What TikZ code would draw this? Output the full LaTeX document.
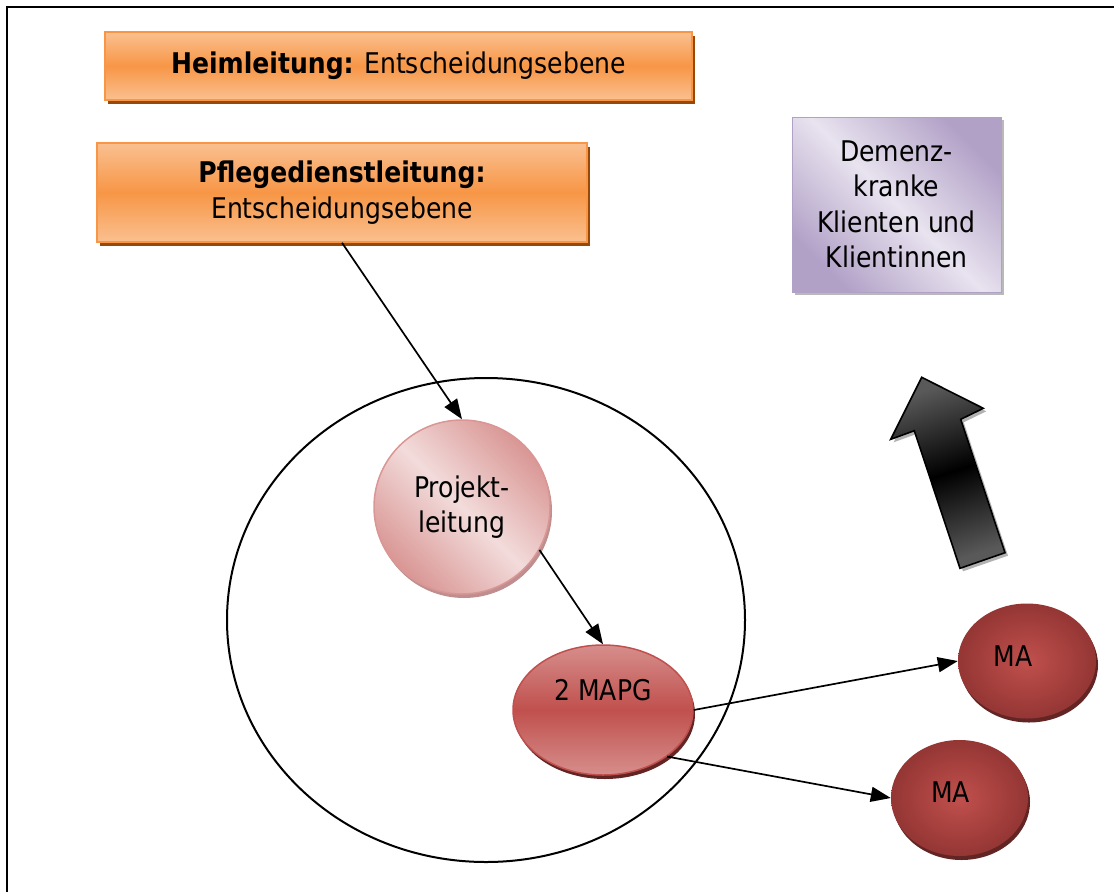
\documentclass[tikz,border=0pt]{standalone}
\usepackage{fontspec}
\setmainfont{DejaVu Sans}[FakeStretch=0.88]
\usetikzlibrary{arrows.meta,shapes.geometric,shadows}
\definecolor{orgD}{HTML}{F79646}
\definecolor{orgL}{HTML}{FAC090}
\definecolor{orgS}{HTML}{984807}
\definecolor{purD}{HTML}{B2A1C7}
\definecolor{purL}{HTML}{E8E3EF}
\definecolor{pinkL}{HTML}{F2DCDB}
\definecolor{pinkD}{HTML}{D99694}
\definecolor{redM}{HTML}{C0504D}
\definecolor{redD}{HTML}{943634}
\definecolor{redS}{HTML}{632523}
\definecolor{redT}{HTML}{D68E8C}
\tikzset{
  txt/.style={font=\fontsize{28.5}{35.5}\selectfont, align=center, text=black},
  orgbox/.style={txt, rectangle, draw=orgD, line width=1.5pt, top color=orgL, bottom color=orgL, middle color=orgD,
    drop shadow={shadow xshift=3pt, shadow yshift=-4pt, fill=orgS, opacity=1}},
  purbox/.style={txt, rectangle, draw=purD, line width=1pt, top color=purD, bottom color=purD, middle color=purL, shading angle=-45,
    drop shadow={shadow xshift=3pt, shadow yshift=-3pt, fill=gray!55, opacity=1}},
  projnode/.style={txt, ellipse, inner sep=0pt, draw=pinkD, line width=1.5pt, top color=pinkD, bottom color=pinkD, middle color=pinkL, shading angle=-45,
    drop shadow={shadow xshift=2pt, shadow yshift=-4pt, fill=pinkD!70!gray, opacity=1}},
  mapgnode/.style={txt, ellipse, inner sep=0pt, draw=redM, line width=1.5pt, top color=redT, bottom color=redT, middle color=redM,
    drop shadow={shadow xshift=2pt, shadow yshift=-4pt, fill=redS, opacity=1}},
  manode/.style={txt, ellipse, inner sep=0pt, inner color=redM, outer color=redD,
    drop shadow={shadow xshift=2pt, shadow yshift=-4pt, fill=redS, opacity=1}},
  conn/.style={line width=1.7pt, -{Triangle[length=20pt,width=15pt]}},
}
\begin{document}
\begin{tikzpicture}[x=1pt,y=-1pt]
\useasboundingbox (0,0) rectangle (1114,892);
% frame
\draw[line width=2pt] (7,892) -- (7,7) -- (1114,7);
% large group ellipse
\node[ellipse, draw, line width=2pt, minimum width=518pt, minimum height=484pt, inner sep=0pt] (grp) at (486,620) {};
% boxes
\node[orgbox, minimum width=587pt, minimum height=68pt] (heim) at (398.5,66) {\textbf{Heimleitung:} Entscheidungsebene};
\node[orgbox, minimum width=490pt, minimum height=99pt] (pfl) at (342,192.5) {\textbf{Pflegedienstleitung:}\\Entscheidungsebene};
\node[purbox, minimum width=209pt, minimum height=175pt] (dem) at (896.5,204.5) {Demenz-\\kranke\\Klienten und\\Klientinnen};
% circles
\node[projnode, minimum width=176pt, minimum height=174pt] (proj) at (462,507) {Projekt-\\leitung};
\node[mapgnode, minimum width=180pt, minimum height=130pt, label={[txt, yshift=20pt]center:2 MAPG}] (mapg) at (603,710) {};
\node[manode, minimum width=138pt, minimum height=115pt, label={[txt, xshift=-14pt, yshift=5pt]center:MA}] (ma1) at (1027,661) {};
\node[manode, minimum width=137pt, minimum height=116pt, label={[txt, xshift=-9pt, yshift=6pt]center:MA}] (ma2) at (959.5,798) {};
% connectors
\draw[conn] (pfl.south) -- (proj.north);
\draw[conn] (proj.-29) -- (mapg.north);
\draw[conn] (mapg.east) -- (ma1.west);
\draw[conn] (mapg.-36) -- (ma2.west);
% block arrow
\fill[gray!60, shift={(3,3)}] (921.7,377.3) -- (983.3,408.3) -- (960.7,419.3) -- (1005,552.7) -- (960,568.3) -- (914.3,430.7) -- (890.7,439.3) -- cycle;
\shadedraw[line width=1.6pt, top color=gray!70!black, bottom color=gray!70!black, middle color=black, shading angle=18]
  (921.7,377.3) -- (983.3,408.3) -- (960.7,419.3) -- (1005,552.7) -- (960,568.3) -- (914.3,430.7) -- (890.7,439.3) -- cycle;
\end{tikzpicture}
\end{document}
